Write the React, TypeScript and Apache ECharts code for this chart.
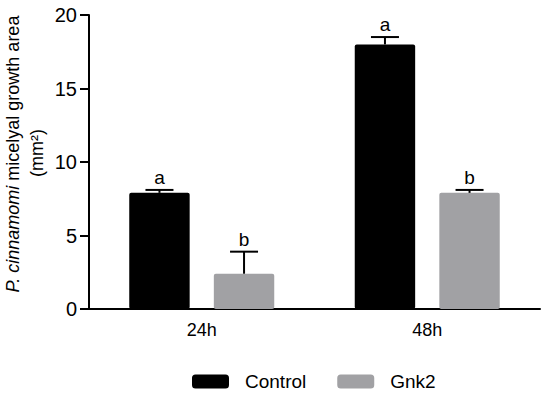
import React, { useEffect, useRef } from "react";
import * as echarts from "echarts";

const categories = ["24h", "48h"];
const seriesNames = ["Control", "Gnk2"];
const controlValues = [7.9, 18.0];
const controlErrors = [0.2, 0.5];
const gnk2Values = [2.4, 7.9];
const gnk2Errors = [1.5, 0.2];
const controlLetters = ["a", "a"];
const gnk2Letters = ["b", "b"];
const yTicks = [0, 5, 10, 15, 20];

const FONT = "'Liberation Sans', Arial, Helvetica, sans-serif";
const COLORS = ["#000000", "#a1a1a4"];
const CAT_GAP = 0.357;
const BAR_GAP = 0.4;

export default function App() {
  const ref = useRef<HTMLDivElement>(null);
  useEffect(() => {
    if (!ref.current) return;
    document.body.style.margin = "0";
    const chart = echarts.init(ref.current, undefined, { renderer: "svg" });

    const errData: any[] = [];
    controlValues.forEach((v, i) => errData.push([i, v, controlErrors[i], 0, controlLetters[i]]));
    gnk2Values.forEach((v, i) => errData.push([i, v, gnk2Errors[i], 1, gnk2Letters[i]]));

    const renderItem = (params: any, api: any) => {
      const ci = api.value(0);
      const v = api.value(1);
      const e = api.value(2);
      const si = api.value(3);
      const letter = errData[params.dataIndex][4];
      const band = api.size([1, 0])[0];
      const w = (band * (1 - CAT_GAP)) / (2 + BAR_GAP);
      const off = ((w * (1 + BAR_GAP)) / 2) * (si === 0 ? -1 : 1);
      const base = api.coord([ci, v]);
      const top = api.coord([ci, v + e]);
      const x = base[0] + off;
      const capHalf = 14;
      return {
        type: "group",
        children: [
          { type: "line", shape: { x1: x, y1: base[1], x2: x, y2: top[1] }, style: { stroke: "#000", lineWidth: 2 } },
          { type: "line", shape: { x1: x - capHalf, y1: top[1], x2: x + capHalf, y2: top[1] }, style: { stroke: "#000", lineWidth: 2 } },
          {
            type: "text",
            x: x,
            y: top[1] - 3,
            style: { text: letter, fontSize: 19, fontFamily: FONT, fill: "#000", textAlign: "center", textVerticalAlign: "bottom" },
          },
        ],
      };
    };

    chart.setOption({
      animation: false,
      textStyle: { fontFamily: FONT },
      grid: { left: 89, right: 10, top: 15, bottom: 86 },
      legend: {
        data: seriesNames.map((n) => ({ name: n, icon: "roundRect" })),
        left: 192,
        top: 372,
        padding: 0,
        itemWidth: 37,
        itemHeight: 14,
        itemGap: 31,
        textStyle: { fontSize: 19, color: "#000", fontFamily: FONT, padding: [0, 0, 0, 11] },
      },
      xAxis: {
        type: "category",
        data: categories,
        axisLine: { lineStyle: { color: "#000", width: 2 } },
        axisTick: { show: false },
        axisLabel: { fontSize: 18, color: "#000", margin: 12, fontFamily: FONT },
      },
      yAxis: {
        type: "value",
        min: 0,
        max: 20,
        interval: 5,
        axisLine: { show: true, lineStyle: { color: "#000", width: 2 } },
        axisTick: { show: true, length: 9, lineStyle: { color: "#000", width: 2 } },
        axisLabel: {
          fontSize: 20,
          color: "#000",
          margin: 12,
          fontFamily: FONT,
          formatter: (v: number) => (yTicks.includes(v) ? String(v) : ""),
        },
        splitLine: { show: false },
      },
      graphic: [
        {
          type: "text",
          x: 13,
          y: 154,
          rotation: Math.PI / 2,
          style: {
            text: "{i|P. cinnamomi} micelyal growth area",
            rich: { i: { fontStyle: "italic", fontSize: 18, fontFamily: FONT, fill: "#000" } },
            fontSize: 18,
            fontFamily: FONT,
            fill: "#000",
            textAlign: "center",
            textVerticalAlign: "middle",
          },
        },
        {
          type: "text",
          x: 37,
          y: 153,
          rotation: Math.PI / 2,
          style: {
            text: "(mm²)",
            fontSize: 18,
            fontFamily: FONT,
            fill: "#000",
            textAlign: "center",
            textVerticalAlign: "middle",
          },
        },
      ],
      series: [
        {
          name: seriesNames[0],
          type: "bar",
          data: controlValues,
          barGap: BAR_GAP * 100 + "%",
          barCategoryGap: CAT_GAP * 100 + "%",
          itemStyle: { color: COLORS[0], borderRadius: 2 },
        },
        {
          name: seriesNames[1],
          type: "bar",
          data: gnk2Values,
          barGap: BAR_GAP * 100 + "%",
          barCategoryGap: CAT_GAP * 100 + "%",
          itemStyle: { color: COLORS[1], borderRadius: 2 },
        },
        {
          type: "custom",
          renderItem,
          data: errData.map((d) => [d[0], d[1], d[2], d[3]]),
          z: 10,
          silent: true,
        },
      ],
    });
    return () => chart.dispose();
  }, []);
  return <div ref={ref} style={{ width: 550, height: 395 }} />;
}
